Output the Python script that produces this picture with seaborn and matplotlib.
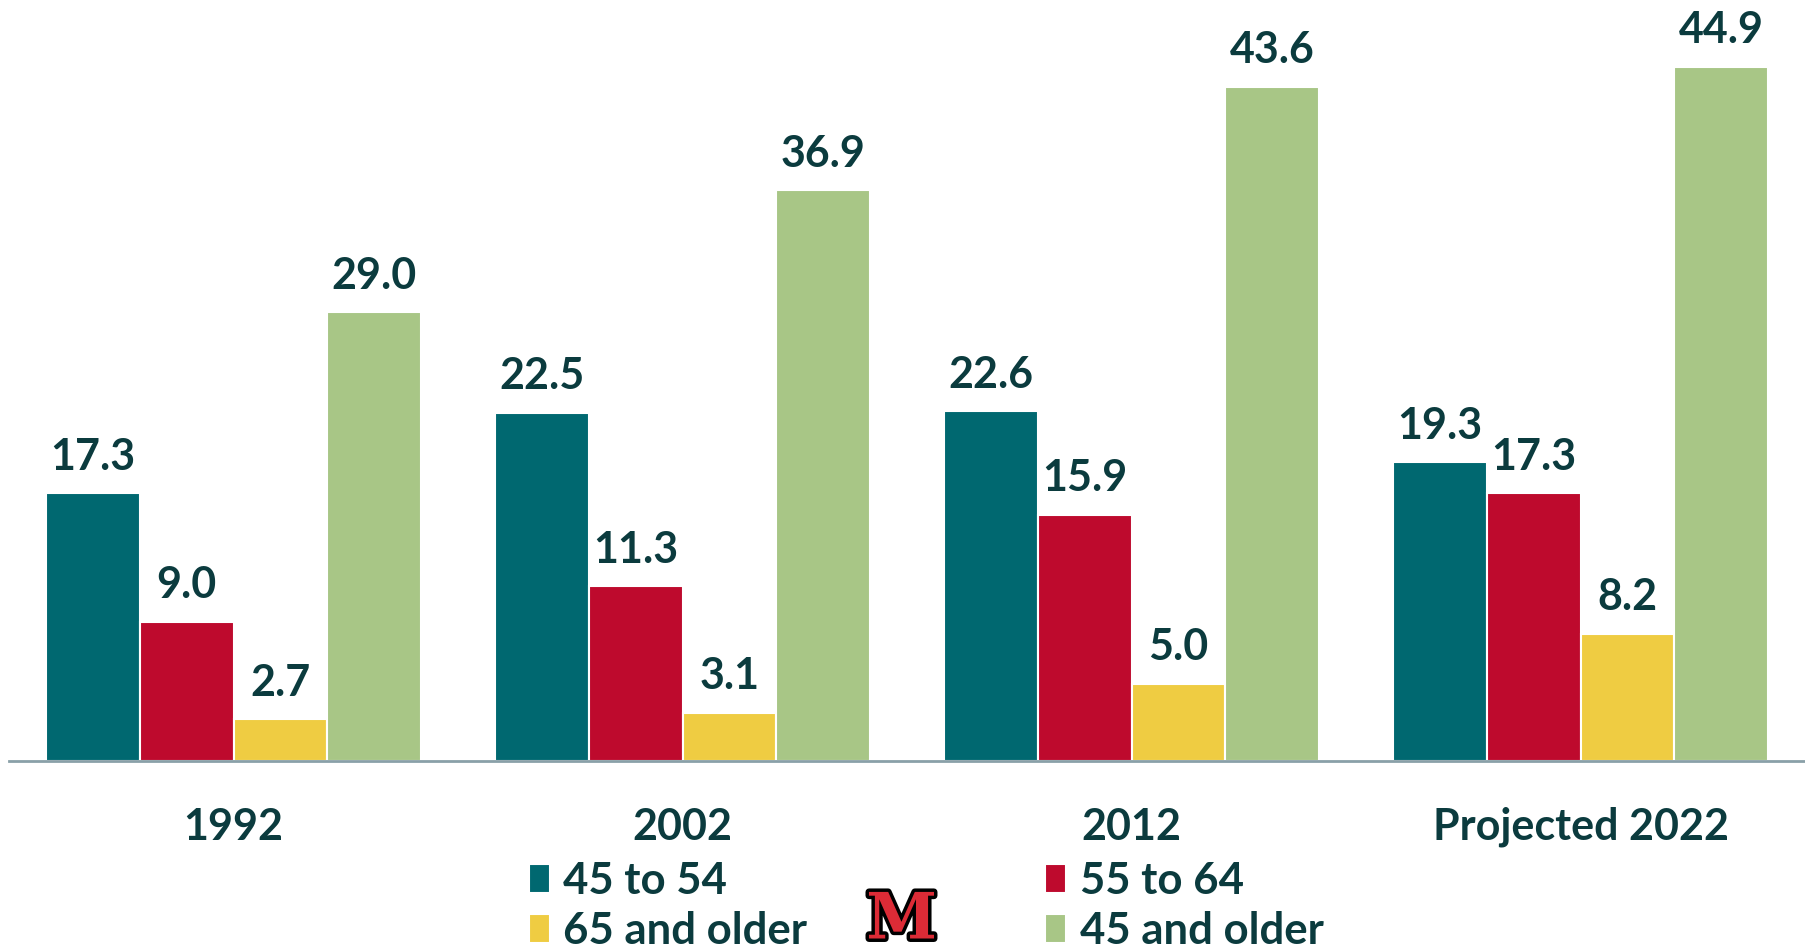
import matplotlib
matplotlib.use('Agg')
import matplotlib.pyplot as plt
import matplotlib.patheffects as pe
import seaborn as sns
import pandas as pd

years = ['1992', '2002', '2012', 'Projected 2022']
groups = ['45 to 54', '55 to 64', '65 and older', '45 and older']
age_45_54 = [17.3, 22.5, 22.6, 19.3]
age_55_64 = [9.0, 11.3, 15.9, 17.3]
age_65_up = [2.7, 3.1, 5.0, 8.2]
age_45_up = [29.0, 36.9, 43.6, 44.9]
colors = ['#006870', '#BE0A2D', '#EFCC42', '#A8C686']
text_color = '#0B3B3E'

df = pd.DataFrame({
    'year': years * 4,
    'group': [g for g in groups for _ in years],
    'value': age_45_54 + age_55_64 + age_65_up + age_45_up,
})

sns.set_style('white')
plt.rcParams['font.family'] = ['Lato', 'DejaVu Sans']
plt.rcParams['font.weight'] = 'bold'

fig = plt.figure(figsize=(18.05, 9.5), dpi=100)
ax = fig.add_axes([0.005, 0.199, 0.995, 0.801])

sns.barplot(data=df, x='year', y='value', hue='group', hue_order=groups,
            palette=colors, width=0.836, edgecolor='white', linewidth=1.5,
            saturation=1, ax=ax)

for cont in ax.containers:
    ax.bar_label(cont, fmt='%.1f', padding=12, fontsize=31, fontweight='bold',
                 color=text_color)

ax.set_xlim(-0.5, 3.5)
ax.set_ylim(0, 49.2)
ax.set_xlabel('')
ax.set_ylabel('')
ax.set_yticks([])
ax.tick_params(axis='x', length=0, pad=33, labelsize=31, labelcolor=text_color)
for lab in ax.get_xticklabels():
    lab.set_fontweight('bold')
for s in ['top', 'left', 'right']:
    ax.spines[s].set_visible(False)
ax.spines['bottom'].set_color('#8AA0A8')
ax.spines['bottom'].set_linewidth(2)

# legend in two columns, ordered like the slide
handles, labels = ax.get_legend_handles_labels()
order = [0, 2, 1, 3]
ax.legend([handles[i] for i in order], [labels[i] for i in order],
          ncol=2, loc='upper left', bbox_to_anchor=(0.293, 0.094),
          bbox_transform=fig.transFigure, frameon=False,
          labelcolor=text_color, handlelength=0.48, handleheight=0.65,
          handletextpad=0.3, columnspacing=5.45, labelspacing=0.24,
          borderpad=0, borderaxespad=0, prop={'weight': 'bold', 'size': 31.5})

# Miami "M" logo
fig.text(0.4995, 1 - 921 / 950, 'M', fontsize=46, family='DejaVu Serif',
         weight='bold', color='#DC2B36', ha='center', va='center',
         path_effects=[pe.withStroke(linewidth=5, foreground='black')])

fig.savefig('out.png', dpi=100)
